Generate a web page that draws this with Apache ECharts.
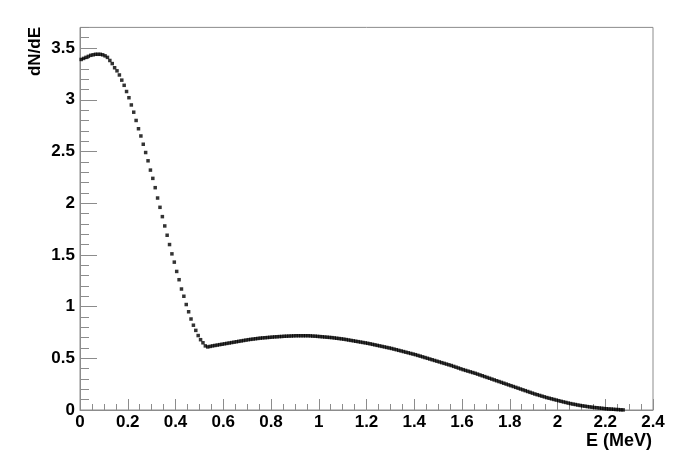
<!DOCTYPE html>
<html>
<head>
<meta charset="utf-8">
<script src="https://cdn.jsdelivr.net/npm/echarts@6/dist/echarts.min.js"></script>
<style>
  html, body { margin: 0; padding: 0; background: #fff; }
  #main { width: 697px; height: 465px; }
</style>
</head>
<body>
<div id="main"></div>
<script>
// histogram bins, 0.01 MeV wide, first bin starts at 0
var binWidth = 0.01;
var counts = [
  3.39, 3.40, 3.41, 3.42, 3.43, 3.435, 3.44, 3.44, 3.44, 3.435,
  3.425, 3.41, 3.38, 3.35, 3.31, 3.28, 3.24, 3.19, 3.14, 3.08,
  3.02, 2.95, 2.88, 2.80, 2.72, 2.65, 2.57, 2.49, 2.41, 2.32,
  2.24, 2.15, 2.05, 1.96, 1.87, 1.78, 1.69, 1.60, 1.51, 1.43,
  1.34, 1.26, 1.17, 1.10, 1.02, 0.95, 0.88, 0.82, 0.77, 0.72,
  0.68, 0.65, 0.62, 0.61, 0.615, 0.62, 0.624, 0.628, 0.632, 0.636,
  0.640, 0.644, 0.648, 0.652, 0.656, 0.660, 0.664, 0.668, 0.672, 0.676,
  0.680, 0.683, 0.686, 0.689, 0.692, 0.695, 0.697, 0.699, 0.701, 0.703,
  0.705, 0.707, 0.708, 0.710, 0.711, 0.713, 0.714, 0.715, 0.716, 0.717,
  0.718, 0.718, 0.718, 0.718, 0.718, 0.718, 0.717, 0.715, 0.714, 0.712,
  0.710, 0.708, 0.706, 0.704, 0.702, 0.700, 0.697, 0.694, 0.691, 0.688,
  0.685, 0.681, 0.677, 0.673, 0.669, 0.665, 0.661, 0.657, 0.653, 0.649,
  0.645, 0.640, 0.635, 0.630, 0.625, 0.620, 0.615, 0.610, 0.605, 0.600,
  0.595, 0.589, 0.583, 0.577, 0.571, 0.565, 0.559, 0.553, 0.547, 0.541,
  0.535, 0.528, 0.521, 0.514, 0.507, 0.500, 0.493, 0.486, 0.479, 0.472,
  0.465, 0.458, 0.451, 0.444, 0.437, 0.430, 0.422, 0.414, 0.406, 0.398,
  0.390, 0.383, 0.376, 0.369, 0.362, 0.355, 0.347, 0.339, 0.331, 0.323,
  0.315, 0.307, 0.299, 0.291, 0.283, 0.275, 0.267, 0.259, 0.251, 0.243,
  0.235, 0.227, 0.219, 0.211, 0.203, 0.195, 0.187, 0.179, 0.171, 0.163,
  0.155, 0.148, 0.141, 0.134, 0.127, 0.120, 0.114, 0.108, 0.102, 0.096,
  0.090, 0.084, 0.078, 0.073, 0.067, 0.062, 0.057, 0.053, 0.048, 0.044,
  0.040, 0.037, 0.033, 0.030, 0.027, 0.024, 0.022, 0.019, 0.017, 0.014,
  0.012, 0.010, 0.009, 0.007, 0.005, 0.004, 0.002, 0.001
];
var xTickLabels = ['0', '0.2', '0.4', '0.6', '0.8', '1', '1.2', '1.4', '1.6', '1.8', '2', '2.2', '2.4'];
var yTickLabels = ['0', '0.5', '1', '1.5', '2', '2.5', '3', '3.5'];

var points = counts.map(function (v, i) {
  return [(i + 0.5) * binWidth, v];
});

var gray = '#8c8c8c';
var labelFont = {
  color: '#000',
  fontFamily: 'Liberation Sans, Arial, sans-serif',
  fontWeight: 'bold',
  fontSize: 17
};

var chart = echarts.init(document.getElementById('main'), null, { renderer: 'canvas' });

var option = {
  animation: false,
  backgroundColor: '#fff',
  grid: {
    left: 80, right: 44, top: 27.4, bottom: 55,
    show: true, borderColor: gray, borderWidth: 1,
    containLabel: false
  },
  xAxis: [
    { // major ticks + labels
      type: 'value', min: 0, max: 2.4, interval: 0.2,
      axisLine: { lineStyle: { color: gray } },
      axisTick: { inside: true, length: 11, lineStyle: { color: gray } },
      splitLine: { show: false },
      axisLabel: Object.assign({
        margin: 4, showMinLabel: true, showMaxLabel: true,
        formatter: function (v) {
          var i = Math.round(v / 0.2);
          return Math.abs(v - i * 0.2) < 1e-6 ? xTickLabels[i] : '';
        }
      }, labelFont),
      name: 'E (MeV)',
      nameLocation: 'end',
      nameGap: -1,
      nameTextStyle: {
        color: '#000', fontFamily: 'Liberation Sans, Arial, sans-serif',
        fontWeight: 'bold', fontSize: 18,
        align: 'right', verticalAlign: 'top', padding: [22, 0, 0, 0]
      }
    },
    { // minor ticks
      type: 'value', min: 0, max: 2.4, interval: 0.05, position: 'bottom',
      axisLine: { show: false },
      axisTick: { inside: true, length: 6, lineStyle: { color: gray } },
      axisLabel: { show: false },
      splitLine: { show: false }
    }
  ],
  yAxis: [
    { // major ticks + labels
      type: 'value', min: 0, max: 3.7, interval: 0.5,
      axisLine: { show: true, lineStyle: { color: gray } },
      axisTick: { show: true, inside: true, length: 17, lineStyle: { color: gray } },
      splitLine: { show: false },
      axisLabel: Object.assign({
        margin: 5, showMinLabel: true, showMaxLabel: false,
        formatter: function (v) {
          var i = Math.round(v / 0.5);
          return Math.abs(v - i * 0.5) < 1e-6 ? yTickLabels[i] : '';
        }
      }, labelFont)
    },
    { // minor ticks
      type: 'value', min: 0, max: 3.7, interval: 0.1, position: 'left',
      axisLine: { show: false },
      axisTick: { show: true, inside: true, length: 9, lineStyle: { color: gray } },
      axisLabel: { show: false },
      splitLine: { show: false }
    }
  ],
  graphic: [
    {
      type: 'text',
      x: 35.5, y: 27,
      rotation: Math.PI / 2,
      style: {
        text: 'dN/dE',
        fill: '#000',
        font: 'bold 17px Liberation Sans, Arial, sans-serif',
        align: 'right',
        verticalAlign: 'middle'
      }
    }
  ],
  series: [
    {
      type: 'scatter',
      xAxisIndex: 0,
      yAxisIndex: 0,
      symbol: 'rect',
      symbolSize: 3.5,
      itemStyle: { color: '#000' },
      data: points
    }
  ]
};

chart.setOption(option);
</script>
</body>
</html>
